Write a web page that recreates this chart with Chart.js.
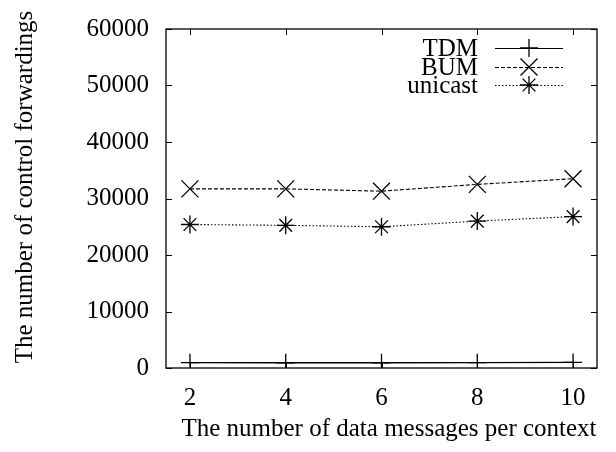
<!DOCTYPE html>
<html>
<head>
<meta charset="utf-8">
<script src="https://cdn.jsdelivr.net/npm/chart.js@4/dist/chart.umd.min.js"></script>
<style>
  html, body { margin: 0; padding: 0; background: #fff; }
  #wrap { width: 616px; height: 452px; }
</style>
</head>
<body>
<div id="wrap"><canvas id="chart"></canvas></div>
<script>
const messages = [2, 4, 6, 8, 10];
const tdm = [950, 930, 930, 950, 980];
const bum = [31700, 31700, 31300, 32500, 33500];
const unicast = [25400, 25250, 25000, 26000, 26800];
const yTicks = [0, 10000, 20000, 30000, 40000, 50000, 60000];

const FONT = '"Liberation Serif", "Times New Roman", serif';
const xTitle = 'The number of data messages per context';
const yTitle = 'The number of control forwardings';

const toPoints = vals => messages.map((m, i) => ({ x: m, y: vals[i] }));

// gnuplot-ish frame, inward ticks, titles and legend
const framePlugin = {
    id: 'frame',
    afterDraw(chart) {
        const { ctx, chartArea: a, scales } = chart;
        const tl = 6;
        ctx.save();
        ctx.strokeStyle = '#000';
        ctx.lineWidth = 1.3;
        ctx.strokeRect(a.left, a.top, a.right - a.left, a.bottom - a.top);

        ctx.lineWidth = 1;
        ctx.beginPath();
        messages.forEach(v => {
            const x = Math.round(scales.x.getPixelForValue(v)) + 0.5;
            ctx.moveTo(x, a.bottom); ctx.lineTo(x, a.bottom - tl);
            ctx.moveTo(x, a.top); ctx.lineTo(x, a.top + tl);
        });
        yTicks.forEach(v => {
            const y = Math.round(scales.y.getPixelForValue(v)) + 0.5;
            ctx.moveTo(a.left, y); ctx.lineTo(a.left + tl, y);
            ctx.moveTo(a.right, y); ctx.lineTo(a.right - tl, y);
        });
        ctx.stroke();

        ctx.fillStyle = '#000';
        ctx.font = '25px ' + FONT;
        ctx.textAlign = 'center';
        ctx.textBaseline = 'middle';
        ctx.fillText(xTitle, 389, 429);
        ctx.save();
        ctx.translate(25, 187);
        ctx.rotate(-Math.PI / 2);
        ctx.fillText(yTitle, 0, 0);
        ctx.restore();

        // legend
        const rows = [48, 67, 85];
        ctx.textAlign = 'right';
        chart.data.datasets.forEach((ds, i) => {
            const y = rows[i];
            ctx.fillText(ds.label, 478, y + 1);
            ctx.save();
            ctx.lineWidth = 1;
            ctx.setLineDash(ds.borderDash || []);
            ctx.beginPath();
            ctx.moveTo(495, y + 0.5);
            ctx.lineTo(563, y + 0.5);
            ctx.stroke();
            ctx.restore();
            ctx.lineWidth = ds.pointBorderWidth;
            Chart.helpers.drawPoint(ctx, {
                pointStyle: ds.pointStyle,
                radius: ds.pointRadius,
                borderWidth: ds.pointBorderWidth,
                rotation: 0
            }, 529, y);
        });
        ctx.restore();
    }
};

new Chart(document.getElementById('chart'), {
    type: 'line',
    data: {
        datasets: [
            {
                label: 'TDM',
                data: toPoints(tdm),
                borderColor: '#000',
                borderWidth: 1.3,
                pointStyle: 'cross',
                pointRadius: 9,
                pointBorderWidth: 1.3,
                pointBorderColor: '#000',
                pointBackgroundColor: '#000'
            },
            {
                label: 'BUM',
                data: toPoints(bum),
                borderColor: '#000',
                borderWidth: 1.1,
                borderDash: [4, 2],
                pointStyle: 'crossRot',
                pointRadius: 12,
                pointBorderWidth: 1.3,
                pointBorderColor: '#000',
                pointBackgroundColor: '#000'
            },
            {
                label: 'unicast',
                data: toPoints(unicast),
                borderColor: '#000',
                borderWidth: 1.1,
                borderDash: [1.5, 2],
                pointStyle: 'star',
                pointRadius: 9,
                pointBorderWidth: 1.3,
                pointBorderColor: '#000',
                pointBackgroundColor: '#000'
            }
        ]
    },
    options: {
        responsive: true,
        maintainAspectRatio: false,
        animation: false,
        layout: { padding: { left: 0, top: 29, right: 19, bottom: 0 } },
        plugins: {
            legend: { display: false },
            tooltip: { enabled: false }
        },
        scales: {
            x: {
                type: 'linear',
                min: 1.5,
                max: 10.5,
                afterBuildTicks: s => { s.ticks = messages.map(v => ({ value: v })); },
                afterFit: s => { s.height = 84; s.paddingLeft = 0; s.paddingRight = 0; },
                grid: { display: false, drawTicks: false },
                border: { display: false },
                ticks: {
                    color: '#000',
                    padding: 15,
                    maxRotation: 0,
                    font: { family: FONT, size: 25 }
                }
            },
            y: {
                min: 0,
                max: 60000,
                afterBuildTicks: s => { s.ticks = yTicks.map(v => ({ value: v })); },
                afterFit: s => { s.width = 166; s.paddingTop = 0; s.paddingBottom = 0; },
                grid: { display: false, drawTicks: false },
                border: { display: false },
                ticks: {
                    color: '#000',
                    padding: 17,
                    font: { family: FONT, size: 25 },
                    callback: v => String(v)
                }
            }
        }
    },
    plugins: [framePlugin]
});
</script>
</body>
</html>
